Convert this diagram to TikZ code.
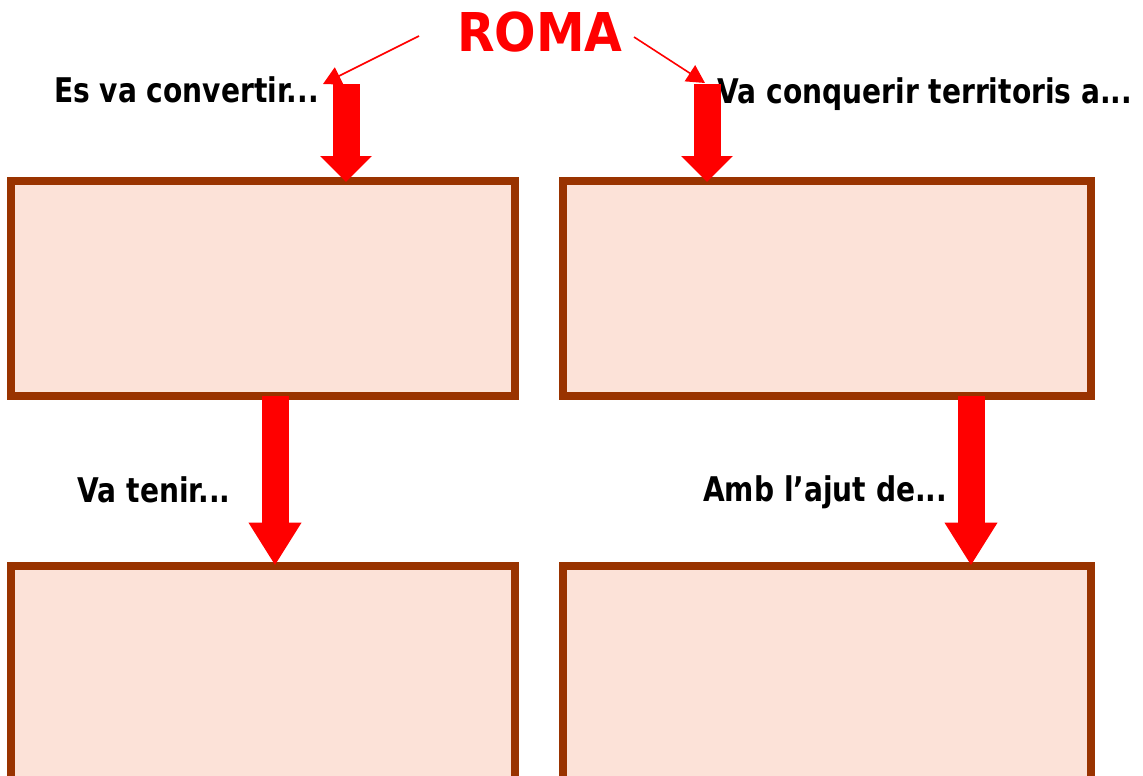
\documentclass[tikz,border=0pt]{standalone}
\usepackage{fontspec}
\usetikzlibrary{arrows.meta}
\newfontfamily\labfont[FakeStretch=0.826]{DejaVu Sans}
\newfontfamily\romafont[FakeStretch=0.913]{DejaVu Sans}
\definecolor{boxborder}{HTML}{993300}
\definecolor{boxfill}{HTML}{FCE2D8}
\definecolor{arrred}{HTML}{FF0000}
\tikzset{
  box/.style={draw=boxborder, fill=boxfill, line width=8pt, rectangle, inner sep=0pt, outer sep=0pt},
  lab/.style={anchor=base west, inner sep=0pt, font=\labfont\bfseries\fontsize{34}{40}\selectfont},
  bigarrow/.style={draw=arrred, line width=27pt, -{Triangle[width=50pt,length=#1]}},
  thinarrow/.style={draw=arrred, line width=1.6pt, -{Triangle[width=19pt,length=18pt]}}
}
\begin{document}
\begin{tikzpicture}[x=1pt,y=-1pt]
\useasboundingbox (0,0) rectangle (1143,776);
\clip (0,0) rectangle (1143,776);
% boxes
\node[box, minimum width=503.5pt, minimum height=215.5pt] (A) at (262.75,288.25) {};
\node[box, minimum width=528pt, minimum height=215.5pt] (B) at (827,288.25) {};
\node[box, minimum width=503.5pt, minimum height=240pt] (C) at (262.75,685.5) {};
\node[box, minimum width=528pt, minimum height=240pt] (D) at (827,685.5) {};
% title
\node[anchor=base west, inner sep=0pt, text=arrred, font=\romafont\bfseries\fontsize{53.5}{60}\selectfont] (R) at (457,52) {ROMA};
% labels
\node[lab] (l1) at (54,102) {Es va convertir...};
\node[lab] (l2) at (717.5,103) {Va conquerir territoris a...};
\node[lab] (l3) at (77.5,502) {Va tenir...};
\node[lab] (l4) at (703,501) {Amb l’ajut de...};
% arrow start points
\coordinate (s1) at (346,84);
\coordinate (s2) at (707,84);
\coordinate (s3) at (275,396);
\coordinate (s4) at (971,396);
% big arrows
\draw[bigarrow=26pt, shorten >=-1.5pt] (s1) -- (s1 |- A.north);
\draw[bigarrow=26pt, shorten >=-1.5pt] (s2) -- (s2 |- B.north);
\draw[bigarrow=43pt] (s3) -- (s3 |- C.north);
\draw[bigarrow=43pt] (s4) -- (s4 |- D.north);
% thin arrows from ROMA
\coordinate (r1) at (419,36);
\coordinate (r2) at (634,37);
\coordinate (t1) at (323,84);
\coordinate (t2) at (705,83);
\draw[thinarrow] (r1) -- (t1);
\draw[thinarrow] (r2) -- (t2);
\end{tikzpicture}
\end{document}
